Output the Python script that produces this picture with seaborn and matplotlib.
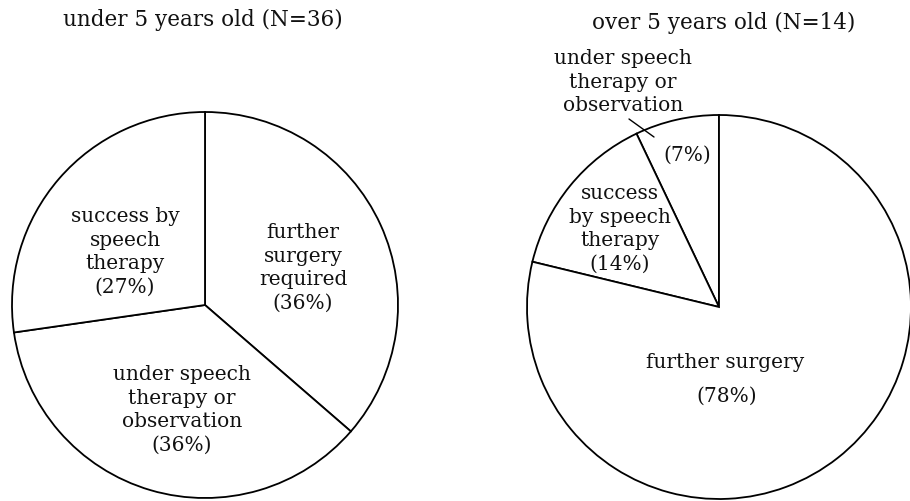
import matplotlib
matplotlib.use("Agg")
import matplotlib.pyplot as plt
import seaborn as sns

# under 5 years old, slices clockwise from 12 o'clock
young_labels = ["further\nsurgery\nrequired", "under speech\ntherapy or\nobservation", "success by\nspeech\ntherapy"]
young_pct = [36, 36, 27]
young_n = 36

# over 5 years old, slices counter-clockwise from 12 o'clock
old_labels = ["under speech\ntherapy or\nobservation", "success\nby speech\ntherapy", "further surgery"]
old_pct = [7, 14, 78]
old_n = 14

W, H = 910, 502

sns.set_theme(style="white")
plt.rcParams['font.family'] = ['DejaVu Serif']

fig = plt.figure(figsize=(W / 100, H / 100), dpi=100)
ax = fig.add_axes([0, 0, 1, 1])

def py(y):
    # pixel row (from top) -> data y
    return H - y

wp = dict(edgecolor="black", linewidth=1.3)

ax.pie(young_pct, colors=["white"] * 3, startangle=90, counterclock=False,
       center=(205, py(306)), radius=193, wedgeprops=wp, frame=True)
ax.pie(old_pct, colors=["white"] * 3, startangle=90, counterclock=True,
       center=(719, py(308)), radius=192, wedgeprops=wp, frame=True)

ax.set_xlim(0, W)
ax.set_ylim(0, H)
ax.axis("off")

txt = dict(ha="center", va="center", fontsize=14.5, linespacing=1.3, color="#111111")

# titles
ax.text(203, py(20), f"under 5 years old (N={young_n})", fontsize=15.5,
        ha="center", va="center", color="#111111")
ax.text(724, py(23), f"over 5 years old (N={old_n})", fontsize=15.5,
        ha="center", va="center", color="#111111")

# left pie labels
ax.text(303, py(268), f"{young_labels[0]}\n({young_pct[0]}%)", **txt)
ax.text(182, py(410), f"{young_labels[1]}\n({young_pct[1]}%)", **txt)
ax.text(125, py(252), f"{young_labels[2]}\n({young_pct[2]}%)", **txt)

# right pie labels
ax.text(623, py(82), old_labels[0], **txt)
ax.text(687, py(155), f"({old_pct[0]}%)", **txt)
ax.plot([629, 654], [py(120), py(138)], color="black", linewidth=1.0)
ax.text(620, py(229), f"{old_labels[1]}\n({old_pct[1]}%)", **txt)
ax.text(725, py(362), old_labels[2], **txt)
ax.text(727, py(396), f"({old_pct[2]}%)", **txt)

fig.savefig("out.png", dpi=100, facecolor="white")
